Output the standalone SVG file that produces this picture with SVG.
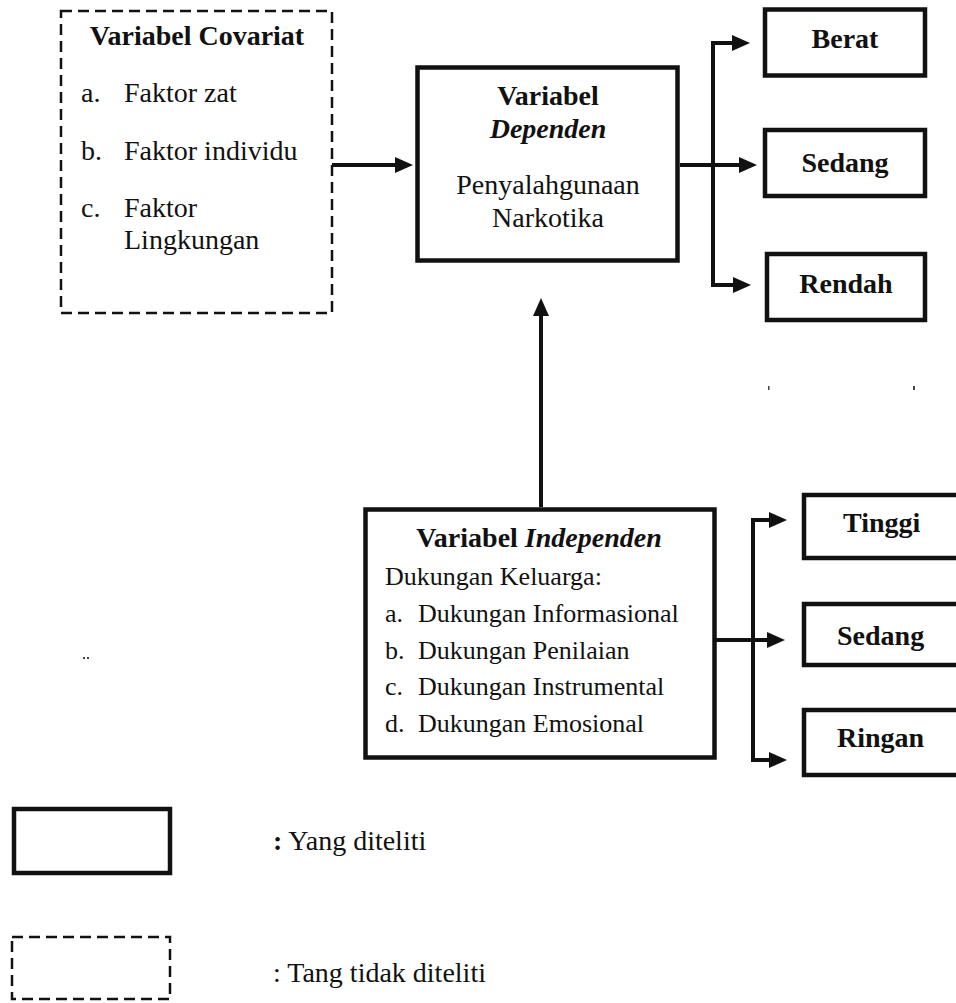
<svg xmlns="http://www.w3.org/2000/svg" width="956" height="1003" viewBox="0 0 956 1003">
<style>
text{font-family:"Liberation Serif","DejaVu Serif",serif;fill:#111;}
.t{font-size:28px;}
.b{font-weight:bold;}
.i{font-style:italic;}
.s{font-size:26px;}
.mid{text-anchor:middle;}
.box{fill:#fff;stroke:#111;stroke-width:4.5;}
.dash{fill:#fff;stroke:#111;stroke-width:2.5;stroke-dasharray:11 6;}
.con{fill:none;stroke:#111;stroke-width:4;stroke-linejoin:miter;}
.dot{fill:#444;}
</style>
<defs>
<marker id="ah" viewBox="0 0 18 16" refX="8" refY="8" markerWidth="18" markerHeight="16" markerUnits="userSpaceOnUse" orient="auto-start-reverse">
<path d="M0,0 L18,8 L0,16 z" fill="#111"/>
</marker>
</defs>
<rect width="956" height="1003" fill="#fff"/>

<g id="connectors">
<path class="con" d="M332,165 H403" marker-end="url(#ah)"/>
<path class="con" d="M680,165 H747" marker-end="url(#ah)"/>
<path class="con" d="M740,43 H713 V285 H741" marker-start="url(#ah)" marker-end="url(#ah)"/>
<path class="con" d="M541,507 V308" marker-end="url(#ah)"/>
<path class="con" d="M715,640 H775" marker-end="url(#ah)"/>
<path class="con" d="M777,520 H753 V760 H777" marker-start="url(#ah)" marker-end="url(#ah)"/>
</g>

<g id="covariat" font-family="Liberation Serif, DejaVu Serif, serif">
<rect class="dash" x="61" y="11" width="271" height="302"/>
<text class="t b mid" x="197" y="45">Variabel Covariat</text>
<text class="t" x="81" y="102">a.</text><text class="t" x="124" y="102">Faktor zat</text>
<text class="t" x="81" y="160">b.</text><text class="t" x="124" y="160">Faktor individu</text>
<text class="t" x="81" y="217">c.</text><text class="t" x="124" y="217">Faktor</text>
<text class="t" x="124" y="249">Lingkungan</text>
</g>

<g id="dependen">
<rect class="box" x="417.5" y="67.5" width="260" height="193"/>
<text class="t b mid" x="548" y="105">Variabel</text>
<text class="t b i mid" x="548" y="138">Dependen</text>
<text class="t mid" x="548" y="194">Penyalahgunaan</text>
<text class="t mid" x="548" y="227">Narkotika</text>
</g>

<g id="berat">
<rect class="box" x="765" y="9.5" width="160" height="66"/>
<text class="t b mid" x="845" y="48">Berat</text>
</g>
<g id="sedang1">
<rect class="box" x="765" y="130" width="160" height="66"/>
<text class="t b mid" x="845" y="172">Sedang</text>
</g>
<g id="rendah">
<rect class="box" x="767" y="254" width="158" height="66"/>
<text class="t b mid" x="846" y="293">Rendah</text>
</g>

<g id="independen">
<rect class="box" x="365.5" y="509.5" width="349" height="248"/>
<text class="t mid" x="539" y="547"><tspan class="b">Variabel </tspan><tspan class="b i">Independen</tspan></text>
<text class="s" x="385" y="585">Dukungan Keluarga:</text>
<text class="s" x="385" y="622">a.</text><text class="s" x="418" y="622">Dukungan Informasional</text>
<text class="s" x="385" y="659">b.</text><text class="s" x="418" y="659">Dukungan Penilaian</text>
<text class="s" x="385" y="695">c.</text><text class="s" x="418" y="695">Dukungan Instrumental</text>
<text class="s" x="385" y="732">d.</text><text class="s" x="418" y="732">Dukungan Emosional</text>
</g>

<g id="tinggi">
<rect class="box" x="804" y="495" width="190" height="63"/>
<text class="t b" x="843" y="532">Tinggi</text>
</g>
<g id="sedang2">
<rect class="box" x="804" y="604" width="190" height="61"/>
<text class="t b" x="837" y="645">Sedang</text>
</g>
<g id="ringan">
<rect class="box" x="804" y="710" width="190" height="65"/>
<text class="t b" x="837" y="747">Ringan</text>
</g>

<g id="legend">
<rect class="box" x="14" y="809" width="156" height="64"/>
<text class="t" x="273" y="850"><tspan class="b">:</tspan> Yang diteliti</text>
<rect class="dash" x="12" y="937" width="158" height="62"/>
<text class="t" x="273" y="982">: Tang tidak diteliti</text>
</g>

<g id="specks">
<rect class="dot" x="83" y="657" width="2" height="2"/>
<rect class="dot" x="87" y="657" width="2" height="2"/>
<rect class="dot" x="768" y="386" width="1.5" height="4"/>
<rect class="dot" x="913" y="386" width="2" height="4"/>
</g>
</svg>
